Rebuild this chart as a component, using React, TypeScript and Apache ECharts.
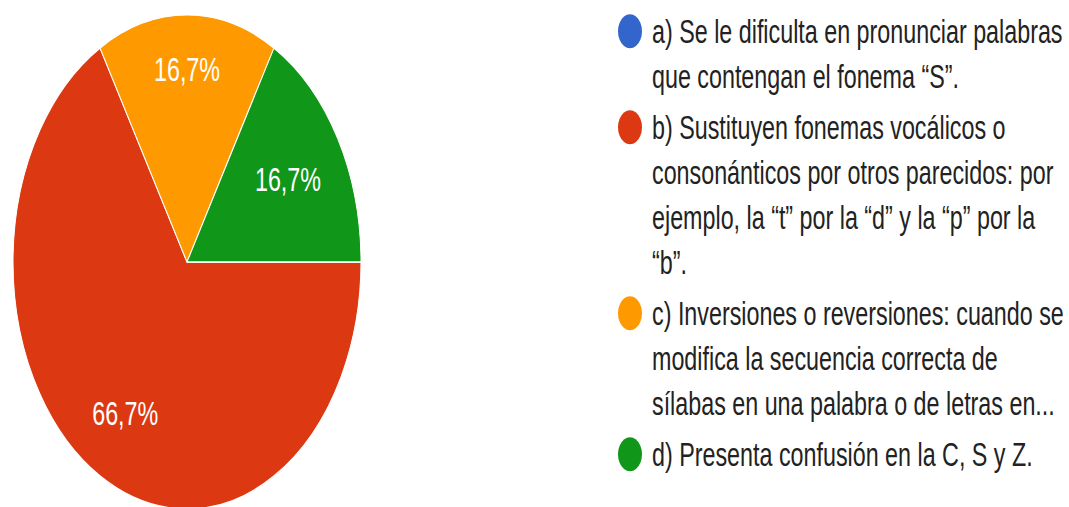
import React, { useEffect, useRef } from "react";
import * as echarts from "echarts";

const categories = [
  "a) Se le dificulta en pronunciar palabras que contengan el fonema “S”.",
  "b) Sustituyen fonemas vocálicos o consonánticos por otros parecidos: por ejemplo, la “t” por la “d” y la “p” por la “b”.",
  "c) Inversiones o reversiones: cuando se modifica la secuencia correcta de sílabas en una palabra o de letras en...",
  "d) Presenta confusión en la C, S y Z.",
];
const legendLines = [
  ["a) Se le dificulta en pronunciar palabras", "que contengan el fonema “S”."],
  [
    "b) Sustituyen fonemas vocálicos o",
    "consonánticos por otros parecidos: por",
    "ejemplo, la “t” por la “d” y la “p” por la",
    "“b”.",
  ],
  [
    "c) Inversiones o reversiones: cuando se",
    "modifica la secuencia correcta de",
    "sílabas en una palabra o de letras en...",
  ],
  ["d) Presenta confusión en la C, S y Z."],
];
const values = [0, 4, 1, 1];
const colors = ["#3366cc", "#dc3912", "#ff9900", "#109618"];

const FONT = "'Liberation Sans Narrow', 'Arial Narrow', 'Liberation Sans', Arial, sans-serif";
const FS = 23.3;
const SCALE_Y = 1.42;
const W = 1069;
const H = Math.round(507 / SCALE_Y);
const CX = 187;
const CY = 184.5;
const R = 174;
const START = 0;
const labelRadiusFrac = [0.7, 0.71, 0.78, 0.67];

export default function App() {
  const ref = useRef<HTMLDivElement>(null);
  useEffect(() => {
    if (!ref.current) return;
    const chart = echarts.init(ref.current, null, { renderer: "svg" });
    const total = values.reduce((a, b) => a + b, 0);
    const mids: number[] = [];
    let acc = 0;
    values.forEach((v) => {
      mids.push(START - ((acc + v / 2) / total) * 360);
      acc += v;
    });

    const graphics: any[] = [];
    let y = 22;
    const lineH = 31.7;
    const gap = 35.9;
    legendLines.forEach((lines, i) => {
      graphics.push({
        type: "circle",
        shape: { cx: 630, cy: y, r: 12 },
        style: { fill: colors[i] },
      });
      lines.forEach((ln, j) => {
        graphics.push({
          type: "text",
          x: 652,
          y: y + j * lineH,
          style: {
            text: ln,
            fill: "#222222",
            font: `${FS}px ${FONT}`,
            verticalAlign: "middle",
            align: "left",
          },
        });
      });
      y += (lines.length - 1) * lineH + gap;
    });

    chart.setOption({
      animation: false,
      color: colors,
      graphic: graphics,
      series: [
        {
          type: "pie",
          center: [CX, CY],
          radius: R,
          startAngle: START,
          clockwise: true,
          avoidLabelOverlap: false,
          itemStyle: { borderColor: "#ffffff", borderWidth: 1 },
          label: {
            show: true,
            position: "inside",
            color: "#ffffff",
            fontFamily: FONT,
            fontSize: FS,
            formatter: (p: any) =>
              p.value === 0 ? "" : p.percent.toFixed(1).replace(".", ",") + "%",
          },
          labelLine: { show: false },
          labelLayout: (p: any) => {
            const i = p.dataIndex;
            const a = (mids[i] * Math.PI) / 180;
            const f = labelRadiusFrac[i];
            return { x: CX + R * f * Math.cos(a), y: CY - R * f * Math.sin(a) };
          },
          emphasis: { disabled: true },
          data: categories.map((name, i) => ({ name, value: values[i] })),
        },
      ],
    });
    return () => chart.dispose();
  }, []);

  return (
    <div
      style={{
        position: "fixed",
        left: 0,
        top: 0,
        width: W,
        height: 507,
        overflow: "hidden",
        background: "#ffffff",
      }}
    >
      <div
        ref={ref}
        style={{
          width: W,
          height: H,
          transform: `scale(1, ${SCALE_Y})`,
          transformOrigin: "0 0",
        }}
      />
    </div>
  );
}
